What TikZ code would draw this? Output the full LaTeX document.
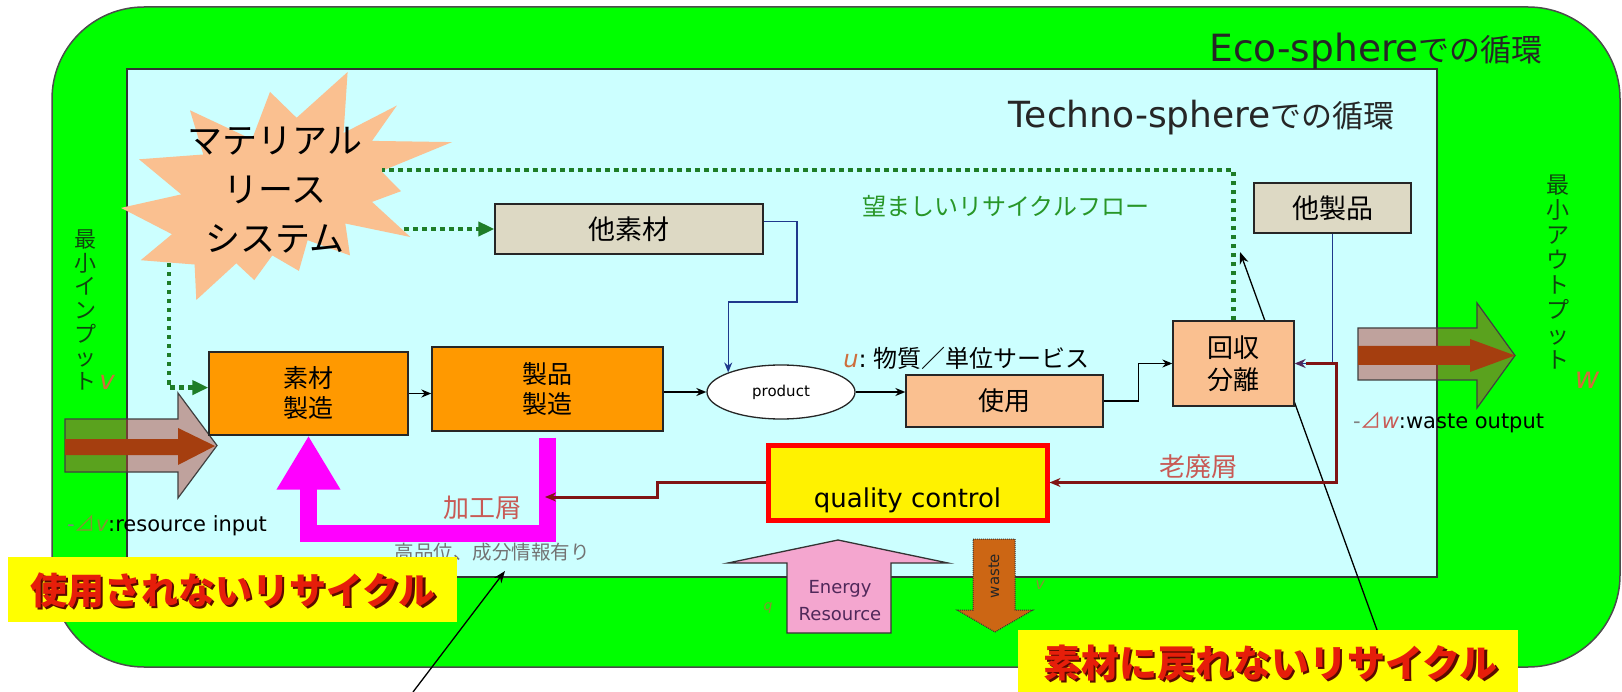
\documentclass[tikz,border=0pt]{standalone}
\usepackage{fontspec}
\setmainfont{DejaVu Sans}
\newfontfamily\jp{Noto Sans CJK JP}
\usetikzlibrary{arrows.meta,shapes.geometric,calc}
\definecolor{ecogreen}{RGB}{0,255,0}
\definecolor{techcyan}{RGB}{204,255,255}
\definecolor{peach}{RGB}{250,192,144}
\definecolor{orangebox}{RGB}{255,153,0}
\definecolor{beige}{RGB}{221,217,196}
\definecolor{dotgreen}{RGB}{30,125,40}
\definecolor{navy}{RGB}{31,56,140}
\definecolor{maroonline}{RGB}{128,20,20}
\definecolor{magentaflow}{RGB}{255,0,255}
\definecolor{rosy}{RGB}{200,90,85}
\definecolor{vgreen}{RGB}{15,70,15}
\definecolor{lblorange}{RGB}{205,110,60}
\definecolor{arrowbrown}{RGB}{180,70,60}
\definecolor{rust}{RGB}{165,62,15}
\definecolor{pinkarrow}{RGB}{244,166,207}
\definecolor{wastebrown}{RGB}{204,102,20}
\definecolor{lblyellow}{RGB}{255,255,0}
\definecolor{lblred}{RGB}{230,30,10}
\definecolor{shadowred}{RGB}{90,10,0}
\definecolor{olivelbl}{RGB}{130,150,50}
\definecolor{textgreen}{RGB}{40,150,40}
\definecolor{purplet}{RGB}{80,40,90}
\newcommand{\jpf}[2]{\jp\fontsize{#1}{#2}\selectfont}
\newcommand{\ltf}[2]{\rmfamily\fontsize{#1}{#2}\selectfont}
\begin{document}
\begin{tikzpicture}[x=1pt,y=-1pt,
  box/.style={draw=black!85, line width=1.3pt, inner sep=0pt, align=center},
  blk/.style={draw=black, line width=1.6pt, -{Stealth[length=10pt,width=8pt]}},
  nav/.style={draw=navy, line width=1.4pt},
  mar/.style={draw=maroonline, line width=3pt, -{Stealth[length=11pt,width=9pt]}},
  dotg/.style={draw=dotgreen, line width=4.5pt, dash pattern=on 4.5pt off 4.5pt},
  dotarr/.style={dotg, -{Triangle[length=16pt,width=14pt]}},
  ptr/.style={draw=black, line width=1.3pt, -{Stealth[length=12pt,width=9pt]}},
  bigarrow/.style={fill=arrowbrown, fill opacity=0.5, draw=black!75, line width=1.2pt},
]
\useasboundingbox (0,0) rectangle (1622,692);
% spheres
\draw[fill=ecogreen, draw=black!70, line width=1.5pt, rounded corners=92pt] (52,7) rectangle (1620,667);
\draw[fill=techcyan, draw=black!80, line width=1.5pt] (127,69) rectangle (1437,577);
\node[anchor=base east, font=\ltf{37.5}{40}, text=black!85, inner sep=0pt] (eco) at (1543,62) {Eco-sphere{\jpf{31}{40}での循環}};
\node[anchor=base east, font=\ltf{36}{40}, text=black!85, inner sep=0pt] (techno) at (1395,128) {Techno-sphere{\jpf{31}{40}での循環}};

% input / output arrows
\draw[bigarrow] (65,419) -- (178,419) -- (178,393) -- (217,445.5) -- (178,498) -- (178,472) -- (65,472) -- cycle;
\fill[rust] (65,439) -- (178,439) -- (178,428) -- (215,446) -- (178,465) -- (178,455) -- (65,455) -- cycle;
\draw[bigarrow] (1358,328) -- (1477,328) -- (1477,303) -- (1515,355.5) -- (1477,408) -- (1477,380) -- (1358,380) -- cycle;
\fill[rust] (1358,346) -- (1470,346) -- (1470,339) -- (1515,355.5) -- (1470,372) -- (1470,365) -- (1358,365) -- cycle;

% starburst
\fill[peach] (296.6,117.8) -- (347.6,72) -- (343.6,133.0) -- (396.9,105.5) -- (372.0,140.9) -- (452,142.1) -- (381.3,171.2) -- (401.0,191.2) -- (372.0,201.9) -- (410.3,237.0) -- (345.3,223.5) -- (350.0,255.4) -- (307.6,240.2) -- (298.9,270.9) -- (272.3,255.4) -- (254.3,280.1) -- (236.3,263.3) -- (196.3,300) -- (194.6,264.5) -- (140.7,260.2) -- (172.0,234.2) -- (121,207.9) -- (181.3,194.4) -- (139.0,159.3) -- (203.3,154.5) -- (190.0,110.3) -- (252.0,139.4) -- (270.0,91.9) -- cycle;
\node[align=center, font=\jpf{35}{49}] (mls) at (275,190) {マテリアル\\リース\\システム};

% pointer behind recovery box
\coordinate (p2s) at (1377,630);
\coordinate (p2e) at (1240,252);
\draw[ptr] (p2s) -- (p2e);

% boxes
\node[box, fill=orangebox, minimum width=199pt, minimum height=83pt, font=\jpf{25}{30}] (sozai) at (308.5,393.5) {素材\\製造};
\node[box, fill=orangebox, minimum width=231pt, minimum height=84pt, font=\jpf{25}{30}] (seihin) at (547.5,389) {製品\\製造};
\node[draw=black!85, line width=1.3pt, ellipse, fill=white, minimum width=148pt, minimum height=54pt, inner sep=0pt, font=\ltf{15}{18}] (prod) at (781,392) {product};
\node[box, fill=peach, minimum width=197pt, minimum height=52pt, font=\jpf{26}{30}] (shiyo) at (1004.5,401) {使用};
\node[box, fill=peach, minimum width=121pt, minimum height=85pt, font=\jpf{26}{32}] (kaishu) at (1233.5,363.5) {回収\\分離};
\node[box, fill=beige, minimum width=268pt, minimum height=50pt, font=\jpf{27}{30}] (tasozai) at (629,229) {他素材};
\node[box, fill=beige, minimum width=157pt, minimum height=50pt, font=\jpf{27}{30}] (taseihin) at (1332.5,208) {他製品};
\node[draw=red, line width=5pt, fill=yellow, minimum width=279pt, minimum height=75pt, inner sep=0pt, text height=55pt, text depth=6pt, font=\ltf{26}{30}] (qc) at (907.5,482.5) {quality control};

% green dotted flows
\coordinate (sbR) at (382,170);
\coordinate (sbM) at (404,229);
\coordinate (sbBL) at (169,263);
\draw[dotg] (kaishu.north) |- (sbR);
\draw[dotarr] (sbM) -- (tasozai.west);
\draw[dotarr] (sbBL) |- ($(sozai.north west)!0.43!(sozai.south west)$);

% main flow
\draw[blk] (sozai.east) -- (seihin.west |- sozai.east);
\draw[blk] (seihin.east |- prod.west) -- (prod.west);
\draw[blk] (prod.east) -- (shiyo.west |- prod.east);
\draw[blk] (shiyo.east) -- ++(35,0) |- (kaishu.west);

% blue flows
\coordinate (tsa) at ($(tasozai.north east)!0.35!(tasozai.south east)$);
\coordinate (bstep) at (797,302);
\draw[nav, -{Stealth[length=10pt,width=8pt]}] (tsa) -| (bstep) -- (prod.north west |- bstep) -- (prod.north west);
\draw[nav, -{Stealth[length=11pt,width=9pt, color=purplet]}] (taseihin.south) |- (kaishu.east);

% maroon flows
\coordinate (rc1) at (1336,363.5);
\coordinate (rc2) at (1336,482.5);
\draw[mar, shorten <=11pt] (kaishu.east) -- (rc1) -- (rc2) -- (qc.east);
\draw[magentaflow, line width=17pt, line join=miter, shorten <=6pt, -{Triangle[length=54pt,width=60pt]}] (seihin.south) -- ++(0,102) -| (sozai.south);
\coordinate (qs1) at (657,482.5);
\coordinate (qs2) at (657,497);
\coordinate (kakoin) at (545,497);
\draw[mar] (qc.west) -- (qs1) -- (qs2) -- (kakoin);

% energy / waste
\draw[fill=pinkarrow, draw=black!80, line width=1.3pt] (787,633) -- (787,563) -- (728,563) -- (838,540) -- (948,563) -- (891,563) -- (891,633) -- cycle;
\node[align=center, font=\ltf{18}{27}, text=purplet] (energy) at (840,601) {Energy\\Resource};
\draw[fill=wastebrown, draw=black!80, line width=1pt, densely dotted] (973,539) -- (1015,539) -- (1015,610) -- (1033,610) -- (995,632) -- (957,610) -- (973,610) -- cycle;
\node[rotate=90, font=\ltf{15}{18}, text=black!85] (wastet) at (994,576) {waste};
\node[font=\ltf{14}{16}, text=olivelbl] (qlbl) at (768,608) {\itshape q};
\node[font=\ltf{16}{18}, text=olivelbl] (vlbl) at (1040,585) {\itshape v};

% labels
\node[anchor=base west, font=\ltf{21}{24}, inner sep=0pt] (resin) at (67,531) {{\color{gray}-}{\color{olivelbl}{\jp ⊿}\itshape v}:resource input};
\node[anchor=base west, font=\ltf{21}{24}, inner sep=0pt] (wasteout) at (1353,428) {{\color{gray}-}{\color{rosy}{\jp ⊿}\itshape w}:waste output};
\node[align=center, font=\jpf{22}{23.7}, text=vgreen] (minin) at (85,310) {最\\小\\イ\\ン\\プ\\ッ\\ト};
\node[align=center, font=\jpf{23}{25}, text=vgreen] (minout) at (1558,272) {最\\小\\ア\\ウ\\ト\\プ\\ッ\\ト};
\node[font=\ltf{26}{28}, text=lblorange] (vin) at (107,382) {\itshape v};
\node[font=\ltf{30}{32}, text=lblorange] (wout) at (1587,380) {\itshape w};
\node[anchor=base west, font=\jpf{24}{28}, text=textgreen, inner sep=0pt] (desired) at (862,216) {望ましいリサイクルフロー};
\node[anchor=base east, font=\jpf{24}{28}, inner sep=0pt] (ulbl) at (1090,368) {{\ltf{24}{28}\color{lblorange}\itshape u}{\ltf{24}{28}:} 物質／単位サービス};
\node[font=\jpf{26}{30}, text=rosy] (rohai) at (1198,467) {老廃屑};
\node[font=\jpf{26}{30}, text=rosy] (kako) at (482,508) {加工屑};
\node[font=\jpf{19.5}{22}, text=black!55] (koh) at (492,552) {高品位、成分情報有り};

% yellow labels
\node[fill=lblyellow, inner sep=0pt, minimum width=449pt, minimum height=65pt] (lbl1) at (232.5,589.5) {};
\node[font=\jpf{37}{40}\bfseries, text=shadowred] (lbl1s) at (235.5,592.5) {使用されないリサイクル};
\node[font=\jpf{37}{40}\bfseries, text=lblred] (lbl1t) at (233,590) {使用されないリサイクル};
\node[fill=lblyellow, inner sep=0pt, minimum width=500pt, minimum height=66pt] (lbl2) at (1268,663) {};
\node[font=\jpf{38}{40}\bfseries, text=shadowred] (lbl2s) at (1273,665.5) {素材に戻れないリサイクル};
\node[font=\jpf{38}{40}\bfseries, text=lblred] (lbl2t) at (1270.5,663) {素材に戻れないリサイクル};

% pointer from below
\coordinate (p1s) at (413,692);
\coordinate (p1e) at (505,571);
\draw[ptr] (p1s) -- (p1e);
\end{tikzpicture}
\end{document}
